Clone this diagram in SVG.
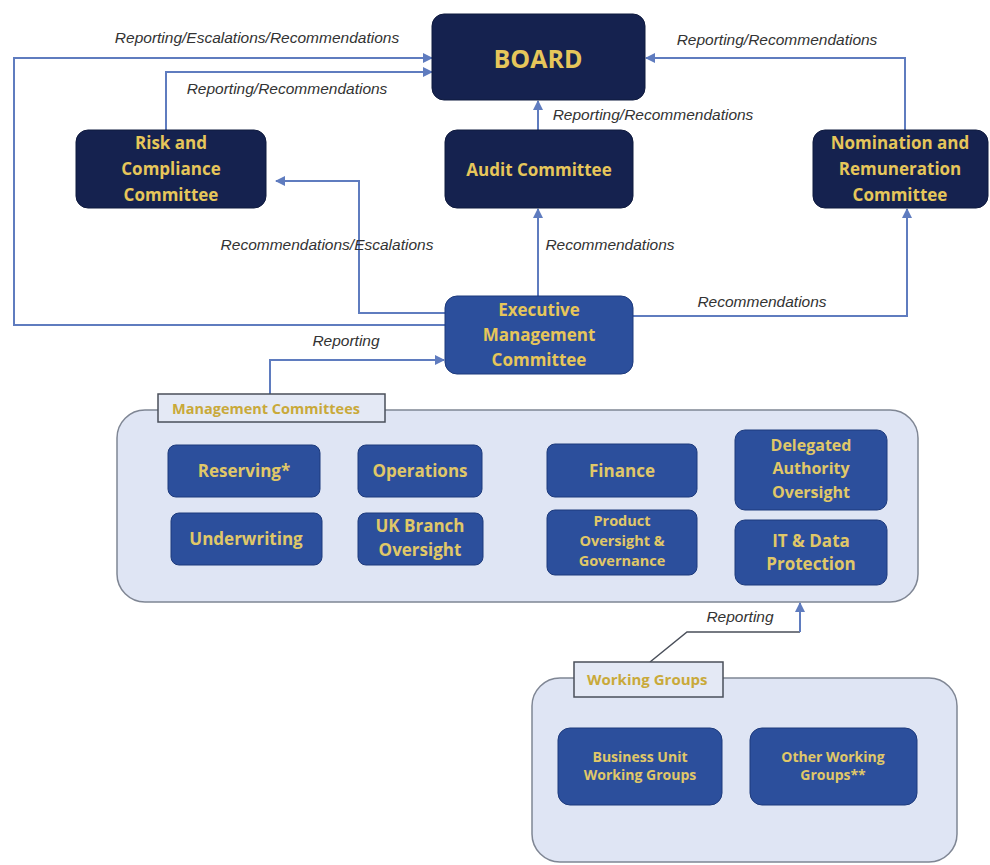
<svg xmlns="http://www.w3.org/2000/svg" width="990" height="865" viewBox="0 0 990 865">
<style>
.dark{fill:#15224f;stroke:#0f1a3e;stroke-width:1}
.mid{fill:#2c4f9c;stroke:#1d3a7c;stroke-width:1}
.nt{font-family:"Open Sans","Liberation Sans",sans-serif;font-weight:bold;font-size:17px;fill:#e6c65a;text-anchor:middle}
.st{font-family:"Open Sans","Liberation Sans",sans-serif;font-weight:bold;font-size:17px;fill:#e0c868;text-anchor:middle}
.lb{font-family:"Liberation Sans",sans-serif;font-style:italic;font-size:15.5px;fill:#333;text-anchor:middle}
.cn{fill:none;stroke:#5f7cbf;stroke-width:2}
.cont{fill:#dfe5f4;stroke:#7f8694;stroke-width:1.5}
.tag{fill:#e4e9f5;stroke:#4a4f5a;stroke-width:1.5}
.tt{font-family:"Open Sans","Liberation Sans",sans-serif;font-weight:bold;font-size:14.5px;fill:#c9a93a}
</style>
<defs>
<marker id="ah" viewBox="0 0 10 10" refX="9" refY="5" markerWidth="5" markerHeight="5" orient="auto"><path d="M0,0 L10,5 L0,10 z" fill="#5f7cbf"/></marker>
</defs>
<rect width="990" height="865" fill="#ffffff"/>

<g id="mgmt-container">
<rect class="cont" x="117" y="410" width="801" height="192" rx="28"/>
</g>
<g id="wg-container">
<rect class="cont" x="532" y="678" width="425" height="184" rx="28"/>
</g>

<g id="connectors">
<path class="cn" d="M445,325 H14 V58 H432" marker-end="url(#ah)"/>
<path class="cn" d="M166,130 V72 H432" marker-end="url(#ah)"/>
<path class="cn" d="M538,130 V101" marker-end="url(#ah)"/>
<path class="cn" d="M905,130 V58 H646" marker-end="url(#ah)"/>
<path class="cn" d="M445,313 H359 V181 H276" marker-end="url(#ah)"/>
<path class="cn" d="M538,296 V209" marker-end="url(#ah)"/>
<path class="cn" d="M633,316 H907 V209" marker-end="url(#ah)"/>
<path class="cn" d="M270,394 V360 H444" marker-end="url(#ah)"/>
<path fill="none" stroke="#4a4f5a" stroke-width="1.5" d="M650,662 L687,632 H800"/>
<path class="cn" d="M800,632 V603" marker-end="url(#ah)"/>
<text class="lb" x="257" y="43">Reporting/Escalations/Recommendations</text>
<text class="lb" x="287" y="94">Reporting/Recommendations</text>
<text class="lb" x="653" y="120">Reporting/Recommendations</text>
<text class="lb" x="777" y="45">Reporting/Recommendations</text>
<text class="lb" x="327" y="250">Recommendations/Escalations</text>
<text class="lb" x="610" y="250">Recommendations</text>
<text class="lb" x="762" y="307">Recommendations</text>
<text class="lb" x="346" y="346">Reporting</text>
<text class="lb" x="740" y="622">Reporting</text>
</g>

<g id="board">
<rect class="dark" x="432" y="14" width="213" height="86" rx="12"/>
<text class="nt" x="538" y="68" style="font-size:25px">BOARD</text>
</g>
<g id="risk">
<rect class="dark" x="76" y="130" width="190" height="78" rx="12"/>
<text class="nt" x="171" y="149">Risk and</text>
<text class="nt" x="171" y="175">Compliance</text>
<text class="nt" x="171" y="201">Committee</text>
</g>
<g id="audit">
<rect class="dark" x="445" y="130" width="188" height="78" rx="12"/>
<text class="nt" x="539" y="176">Audit Committee</text>
</g>
<g id="nomination">
<rect class="dark" x="813" y="130" width="175" height="78" rx="12"/>
<text class="nt" x="900" y="149">Nomination and</text>
<text class="nt" x="900" y="175">Remuneration</text>
<text class="nt" x="900" y="201">Committee</text>
</g>
<g id="exec">
<rect class="mid" x="445" y="296" width="188" height="78" rx="12"/>
<text class="nt" x="539" y="316">Executive</text>
<text class="nt" x="539" y="341">Management</text>
<text class="nt" x="539" y="366">Committee</text>
</g>

<g id="mgmt-label">
<rect class="tag" x="158" y="394" width="227" height="28"/>
<text class="tt" x="172" y="414">Management Committees</text>
</g>
<g id="reserving">
<rect class="mid" x="168" y="445" width="152" height="52" rx="8"/>
<text class="st" x="244" y="477">Reserving*</text>
</g>
<g id="underwriting">
<rect class="mid" x="171" y="513" width="151" height="52" rx="8"/>
<text class="st" x="246" y="545">Underwriting</text>
</g>
<g id="operations">
<rect class="mid" x="358" y="445" width="124" height="52" rx="8"/>
<text class="st" x="420" y="477">Operations</text>
</g>
<g id="ukbranch">
<rect class="mid" x="358" y="513" width="125" height="52" rx="8"/>
<text class="st" x="420" y="532">UK Branch</text>
<text class="st" x="420" y="556">Oversight</text>
</g>
<g id="finance">
<rect class="mid" x="547" y="444" width="150" height="53" rx="8"/>
<text class="st" x="622" y="477">Finance</text>
</g>
<g id="product">
<rect class="mid" x="547" y="510" width="150" height="65" rx="8"/>
<text class="st" x="622" y="526" style="font-size:14.5px">Product</text>
<text class="st" x="622" y="546" style="font-size:14.5px">Oversight &amp;</text>
<text class="st" x="622" y="566" style="font-size:14.5px">Governance</text>
</g>
<g id="delegated">
<rect class="mid" x="735" y="430" width="152" height="80" rx="10"/>
<text class="st" x="811" y="451" style="font-size:16px">Delegated</text>
<text class="st" x="811" y="474" style="font-size:16px">Authority</text>
<text class="st" x="811" y="498" style="font-size:16px">Oversight</text>
</g>
<g id="itdata">
<rect class="mid" x="735" y="520" width="152" height="65" rx="10"/>
<text class="st" x="811" y="547">IT &amp; Data</text>
<text class="st" x="811" y="570">Protection</text>
</g>

<g id="wg-label">
<rect class="tag" x="574" y="662" width="149" height="35"/>
<text class="tt" x="587" y="685" style="font-size:15px">Working Groups</text>
</g>
<g id="bu-wg">
<rect class="mid" x="558" y="728" width="164" height="77" rx="12"/>
<text class="st" x="640" y="762" style="font-size:14px">Business Unit</text>
<text class="st" x="640" y="780" style="font-size:14px">Working Groups</text>
</g>
<g id="other-wg">
<rect class="mid" x="750" y="728" width="167" height="77" rx="12"/>
<text class="st" x="833" y="762" style="font-size:14px">Other Working</text>
<text class="st" x="833" y="780" style="font-size:14px">Groups**</text>
</g>
</svg>
